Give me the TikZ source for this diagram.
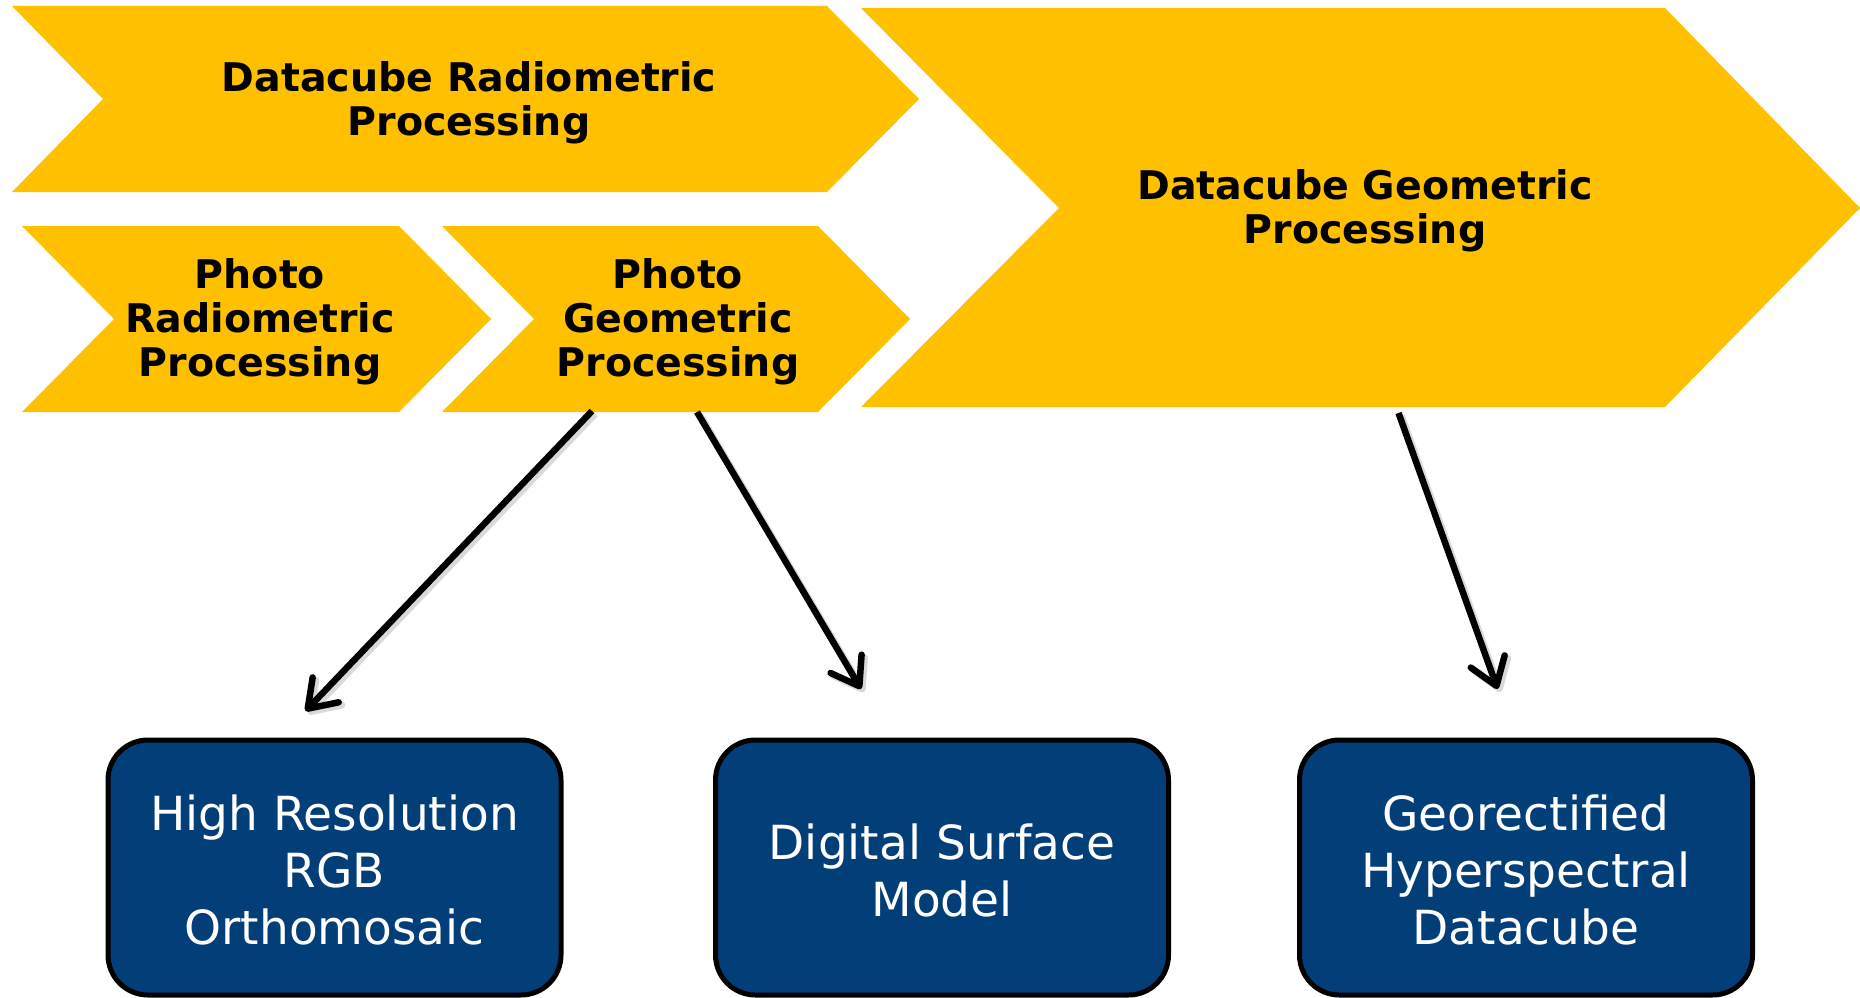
\documentclass[tikz,border=0pt]{standalone}
\usepackage{fontspec}
\setmainfont{DejaVu Sans}
\usetikzlibrary{arrows.meta}
\definecolor{chev}{RGB}{255,192,0}
\definecolor{boxblue}{RGB}{2,62,120}
\begin{document}
\begin{tikzpicture}[x=1pt,y=-1pt,
  chevshape/.style={fill=chev},
  chevtext/.style={font=\bfseries\fontsize{39.5}{44}\selectfont, align=center, text=black, inner sep=0pt},
  outbox/.style={draw=black, line width=5pt, fill=boxblue, rounded corners=40pt,
    minimum width=453pt, minimum height=255pt, inner sep=0pt},
  outtext/.style={font=\fontsize{47}{57}\selectfont, align=center, text=white, inner sep=0pt},
  flow/.style={line width=6.5pt, line cap=butt, -{Straight Barb[round,length=26pt,width=36pt]}},
  flowshadow/.style={line width=7pt, black!15, line cap=butt, -{Straight Barb[round,length=26pt,width=36pt]}}]
\path[use as bounding box] (0,0) rectangle (1860,998);
\clip (0,0) rectangle (1860,998);

% arrow ends
\coordinate (a1s) at (592,411);
\coordinate (a1e) at (305.5,711);
\coordinate (a2s) at (697,412);
\coordinate (a2e) at (861,689);
\coordinate (a3s) at (1398.5,413);
\coordinate (a3e) at (1497.6,689);

% soft shadows of the connectors
\draw[flowshadow] ([shift={(3,3)}]a1s) -- ([shift={(3,3)}]a1e);
\draw[flowshadow] ([shift={(3,3)}]a2s) -- ([shift={(3,3)}]a2e);
\draw[flowshadow] ([shift={(3,3)}]a3s) -- ([shift={(3,3)}]a3e);

% chevrons
\fill[chevshape] (12,6) -- (827,6) -- (919,99) -- (827,192) -- (12,192) -- (103,99) -- cycle;
\fill[chevshape] (22,226) -- (399,226) -- (491,319) -- (399,412) -- (22,412) -- (114,319) -- cycle;
\fill[chevshape] (442,226) -- (818,226) -- (910,319) -- (818,412) -- (442,412) -- (534,319) -- cycle;
\fill[chevshape] (861,8) -- (1665,8) -- (1860,208) -- (1665,407) -- (861,407) -- (1059,208) -- cycle;

\node[chevtext] (dr) at (469,102.5) {Datacube Radiometric\\Processing};
\node[chevtext] (pr) at (260,321.5) {Photo\\Radiometric\\Processing};
\node[chevtext] (pg) at (678,321.5) {Photo\\Geometric\\Processing};
\node[chevtext] (dg) at (1365,210.5) {Datacube Geometric\\Processing};

% output boxes
\node[outbox] (b1) at (334.5,867.5) {};
\node[outbox] (b2) at (942,867.5) {};
\node[outbox] (b3) at (1526,867.5) {};
\node[outtext] (t1) at (334.5,870) {High Resolution\\RGB\\Orthomosaic};
\node[outtext] (t2) at (942,870) {Digital Surface\\Model};
\node[outtext] (t3) at (1526,870) {Georectified\\Hyperspectral\\Datacube};

\draw[flow] (a1s) -- (a1e);
\draw[flow] (a2s) -- (a2e);
\draw[flow] (a3s) -- (a3e);
\end{tikzpicture}
\end{document}
